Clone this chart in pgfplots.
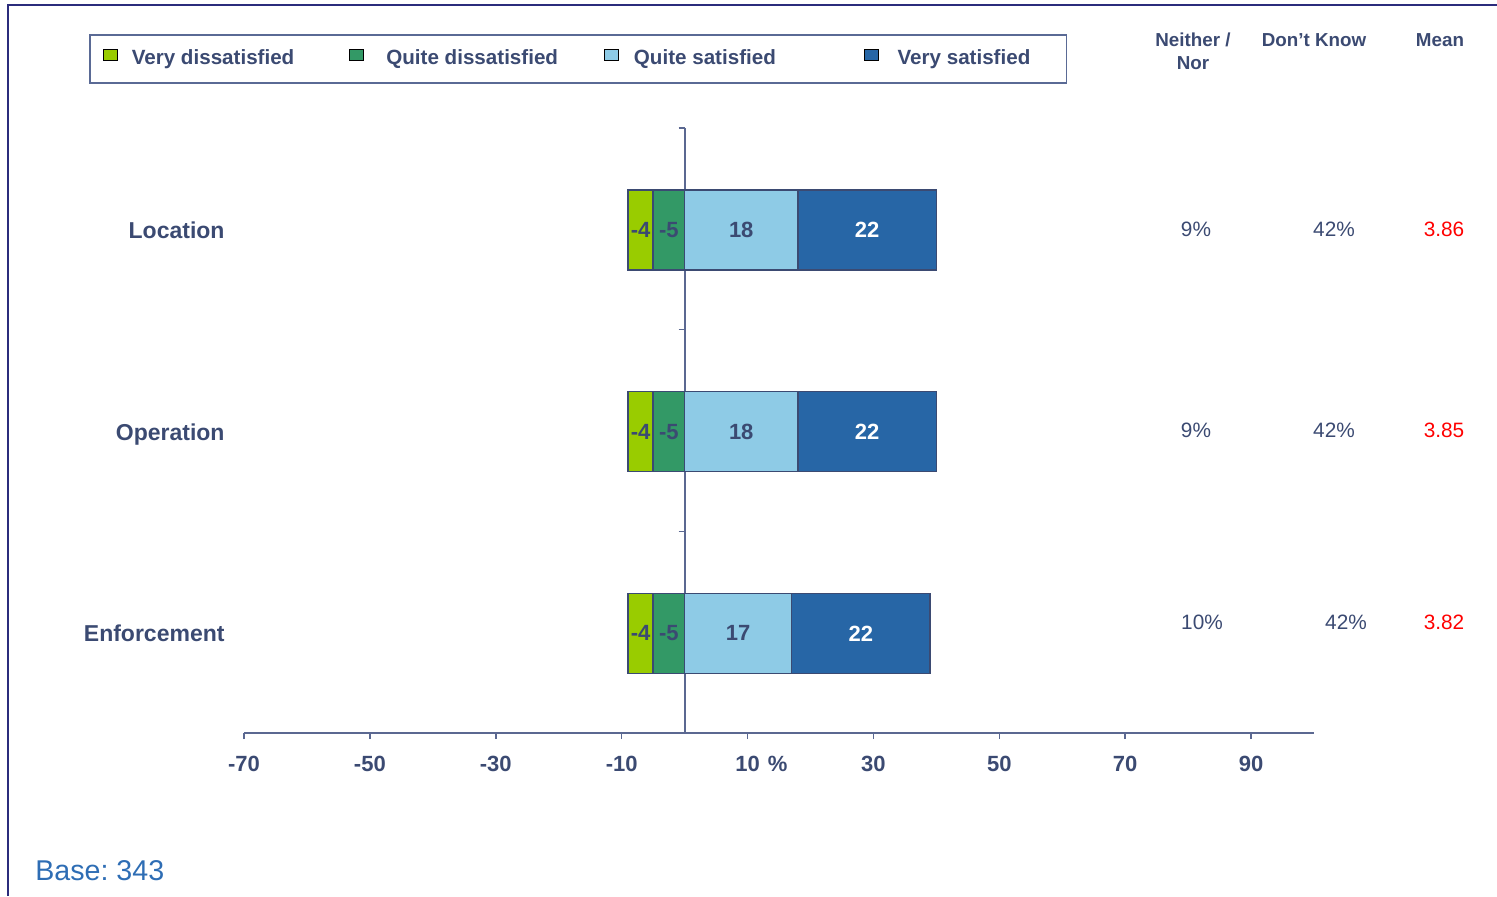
\documentclass[border=0pt]{standalone}
\usepackage{fontspec}
\setmainfont{Liberation Sans}
\usepackage{pgfplots}
\pgfplotsset{compat=1.18}
\usepackage{pgfplotstable}
\frenchspacing

\definecolor{vd}{HTML}{99CC00}
\definecolor{qd}{HTML}{339966}
\definecolor{qs}{HTML}{8ECBE6}
\definecolor{vs}{HTML}{2766A6}
\definecolor{navy}{HTML}{3B4A72}
\definecolor{axisc}{HTML}{5B6891}
\definecolor{framec}{HTML}{2B2C7C}
\definecolor{basec}{HTML}{2E6DB4}
\definecolor{legc}{HTML}{5A6A95}

% satisfaction shares (y: 2 = Location, 1 = Operation, 0 = Enforcement)
\pgfplotstableread{
y vd qd qs vs
2 -4 -5 18 22
1 -4 -5 18 22
0 -4 -5 17 22
}\sat

\pgfplotsset{
  base/.style={scale only axis, width=535pt, height=302.5pt,
    xmin=-70, xmax=100, ymin=-0.5, ymax=2.5,
    at={(122pt,-366.5pt)}, anchor=south west},
  sq/.style={legend image code/.code={\draw[fill=#1, draw=black, line width=0.5pt] (0pt,-1.05pt) rectangle (7pt,4.45pt);}},
  barsty/.style={draw=navy, line width=0.65pt, bar shift=-0.6pt},
}

\begin{document}
\begin{tikzpicture}
\path[use as bounding box] (0pt,0pt) rectangle (748.5pt,-448pt);
\draw[framec, line width=1.1pt] (4pt,-448pt) -- (4pt,-2.5pt) -- (748.5pt,-2.5pt);

% axis with lines and negative stack
\begin{axis}[base,
  xbar stacked, bar width=40pt,
  axis x line*=bottom, axis y line*=center,
  axis line style={axisc, line width=1pt},
  xtick={-70,-50,-30,-10,10,30,50,70,90},
  xticklabels={-70,-50,-30,-10,{10\rlap{\hspace{4pt}\%}},30,50,70,90},
  ytick={0,1,2}, yticklabels={Enforcement,Operation,Location},
  minor ytick={-0.5,0.5,1.5,2.5},
  major y tick style={draw=none},
  tick style={axisc, line width=0.8pt},
  tick align=outside, major tick length=3pt, minor tick length=3pt,
  xticklabel style={font=\bfseries\fontsize{11}{13}\selectfont, text=navy, yshift=-5pt},
  yticklabel style={font=\bfseries\fontsize{11.5}{13}\selectfont, text=navy,
    text height=8.2pt, text depth=2.5pt, xshift=-223.5pt, yshift=-2pt},
  clip=false,
]
\addplot[barsty, fill=qd] table[x=qd, y=y] {\sat};
\addplot[barsty, fill=vd] table[x=vd, y=y] {\sat};
\end{axis}

% positive stack
\begin{axis}[base, hide axis, xbar stacked, bar width=40pt, clip=false]
\addplot[barsty, fill=qs] table[x=qs, y=y] {\sat};
\addplot[barsty, fill=vs] table[x=vs, y=y] {\sat};
\end{axis}

% labels and legend
\begin{axis}[base, hide axis, clip=false,
  legend columns=4,
  legend style={at={(-0.1449,1.1554)}, anchor=north west, draw=legc, line width=0.8pt,
    fill=white, inner xsep=6.5pt, inner ysep=6.75pt,
    font=\bfseries\fontsize{10.3}{12}\selectfont,
    nodes={inner sep=0pt, text height=8pt, text depth=2.5pt, text=navy},
    cells={anchor=west}},
  lab/.style={forget plot, only marks, mark=*, mark size=0pt,
    mark options={draw=none, fill=none},
    nodes near coords, point meta=explicit symbolic,
    every node near coord/.append style={anchor=center, inner sep=0pt, yshift=-0.6pt,
      font=\bfseries\fontsize{11}{13}\selectfont, text=#1}},
]
\addlegendimage{sq=vd}
\addlegendentry{\hspace*{7pt}\makebox[108.8pt][l]{Very dissatisfied}}
\addlegendimage{sq=qd}
\addlegendentry{\hspace*{11pt}\makebox[108.8pt][l]{Quite dissatisfied}}
\addlegendimage{sq=qs}
\addlegendentry{\hspace*{7.5pt}\makebox[114.8pt][l]{Quite satisfied}}
\addlegendimage{sq=vs}
\addlegendentry{\hspace*{9.5pt}\makebox[78pt][l]{Very satisfied}}

\addplot[lab=navy] table[x expr=\thisrow{qd}+\thisrow{vd}/2, y=y, meta=vd] {\sat};
\addplot[lab=navy] table[x expr=\thisrow{qd}/2, y=y, meta=qd] {\sat};
\addplot[lab=navy] table[x expr=\thisrow{qs}/2, y=y, meta=qs] {\sat};
\addplot[lab=white] table[x expr=\thisrow{qs}+\thisrow{vs}/2, y=y, meta=vs] {\sat};
\end{axis}

% side columns
\begin{scope}[every node/.style={inner sep=0pt}]
\node[font=\bfseries\fontsize{9.4}{11.5}\selectfont, text=navy, align=center] at (596.5pt,-25.75pt) {Neither /\\Nor};
\node[font=\bfseries\fontsize{9.4}{11.5}\selectfont, text=navy] at (657pt,-20pt) {Don’t Know};
\node[font=\bfseries\fontsize{9.4}{11.5}\selectfont, text=navy] at (720pt,-20pt) {Mean};

\node[font=\fontsize{10.4}{12}\selectfont, text=navy] at (598pt,-114.5pt) {9\%};
\node[font=\fontsize{10.4}{12}\selectfont, text=navy] at (667pt,-114.5pt) {42\%};
\node[font=\fontsize{10.4}{12}\selectfont, text=red] at (722pt,-114.5pt) {3.86};

\node[font=\fontsize{10.4}{12}\selectfont, text=navy] at (598pt,-215pt) {9\%};
\node[font=\fontsize{10.4}{12}\selectfont, text=navy] at (667pt,-215pt) {42\%};
\node[font=\fontsize{10.4}{12}\selectfont, text=red] at (722pt,-215pt) {3.85};

\node[font=\fontsize{10.4}{12}\selectfont, text=navy] at (601pt,-311pt) {10\%};
\node[font=\fontsize{10.4}{12}\selectfont, text=navy] at (673pt,-311pt) {42\%};
\node[font=\fontsize{10.4}{12}\selectfont, text=red] at (722pt,-311pt) {3.82};

\node[font=\fontsize{14.3}{16}\selectfont, text=basec, anchor=west] at (17.5pt,-435.5pt) {Base: 343};
\end{scope}
\end{tikzpicture}
\end{document}
